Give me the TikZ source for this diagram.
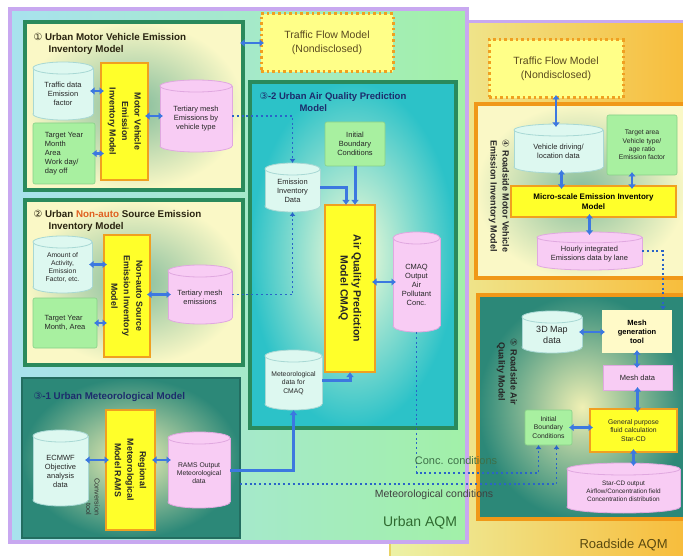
\documentclass[tikz,border=0pt]{standalone}
\usepackage{fontspec}
\setmainfont{Liberation Sans}
\newfontfamily\djv{DejaVu Sans}
\usetikzlibrary{arrows.meta,calc}
\definecolor{purp}{HTML}{C8A8F0}
\definecolor{urbL}{HTML}{A8E2EE}
\definecolor{urbR}{HTML}{A2F0A8}
\definecolor{rsL}{HTML}{ECF2A6}
\definecolor{rsR}{HTML}{F8BA36}
\definecolor{rsB}{HTML}{E8D264}
\definecolor{dgreen}{HTML}{2A8A5C}
\definecolor{boxY}{HTML}{FAF8C6}
\definecolor{boxC}{HTML}{84BC9C}
\definecolor{tealD}{HTML}{2C8878}
\definecolor{tealL}{HTML}{F0F0B4}
\definecolor{cyanE}{HTML}{2CC2C8}
\definecolor{cyanC}{HTML}{FFFFD8}
\definecolor{yelF}{HTML}{FFFF2A}
\definecolor{yelD}{HTML}{F0A020}
\definecolor{orng}{HTML}{F09818}
\definecolor{cyF}{HTML}{DDF8F0}
\definecolor{cyD}{HTML}{A8D8D4}
\definecolor{pkF}{HTML}{F8CCF4}
\definecolor{pkD}{HTML}{E0A8E0}
\definecolor{gnF}{HTML}{A8F0A0}
\definecolor{gnD}{HTML}{88D088}
\definecolor{arrB}{HTML}{3C78E0}
\definecolor{dotB}{HTML}{2A64C8}
\definecolor{navy}{HTML}{1C2C6C}
\definecolor{tfF}{HTML}{FFFF88}
\definecolor{tfD}{HTML}{F0A020}
\definecolor{tfT}{HTML}{5A4A20}
\definecolor{naC}{HTML}{E06020}
\definecolor{ttlC}{HTML}{2A2410}
\definecolor{concG}{HTML}{3E7048}
\definecolor{urbT}{HTML}{2F6A30}
\definecolor{rsT}{HTML}{5A4A10}
\definecolor{mgF}{HTML}{FFFAC8}
\newcommand\mkbox[7]{%
  \pgfmathsetmacro\mbw{#4-#2}%
  \pgfmathsetmacro\mbh{#5-#3}%
  \pgfmathsetmacro\mbx{(#2+#4)/2}%
  \pgfmathsetmacro\mby{(#3+#5)/2}%
  \node[#6, minimum width=\mbw pt, minimum height=\mbh pt, inner sep=0pt, outer sep=0pt] (#1) at (\mbx,\mby) {#7};%
}
\newcommand\mkcyl[8][txt]{%
  \pgfmathsetmacro\mcrx{(#5-#3)/2}%
  \pgfmathsetmacro\mccx{(#3+#5)/2}%
  \pgfmathsetmacro\mccy{(#4+#6)/2}%
  \pgfmathsetmacro\mcw{#5-#3}%
  \pgfmathsetmacro\mch{#6-#4}%
  \pgfmathsetmacro\mcr{min(6,(#6-#4)/7)}%
  \filldraw[#7] (\mccx,#6-\mcr) ellipse[x radius=\mcrx pt, y radius=\mcr pt];%
  \fill[#7,draw=none] (#3,#4+\mcr) rectangle (#5,#6-\mcr);%
  \draw[#7] (#3,#4+\mcr) -- (#3,#6-\mcr) (#5,#4+\mcr) -- (#5,#6-\mcr);%
  \filldraw[#7] (\mccx,#4+\mcr) ellipse[x radius=\mcrx pt, y radius=\mcr pt];%
  \node[minimum width=\mcw pt, minimum height=\mch pt, inner sep=0pt, outer sep=0pt] (#2) at (\mccx,\mccy) {};%
  \node[#1] (#2-t) at (\mccx,\mccy+\mcr/2) {#8};%
}
\begin{document}
\begin{tikzpicture}[x=1pt,y=-1pt,
  txt/.style={font=\fontsize{7.5}{9}\selectfont, align=center, text=black!85},
  stxt/.style={font=\fontsize{6.8}{8.3}\selectfont, align=center, text=black!85},
  ttl/.style={font=\fontsize{9.8}{12}\selectfont\bfseries, align=left, text=ttlC},
  nttl/.style={ttl, text=navy},
  ytxt/.style={font=\fontsize{8.8}{12.5}\selectfont\bfseries, align=center, rotate=-90, text=black!85},
  ybox/.style={fill=yelF, draw=yelD, line width=1.8pt},
  gnote/.style={fill=gnF, draw=gnD, line width=0.6pt, rounded corners=2pt, txt},
  cylc/.style={fill=cyF, draw=cyD, line width=0.8pt},
  cylp/.style={fill=pkF, draw=pkD, line width=0.8pt},
  tfbox/.style={fill=tfF, draw=tfD, line width=3pt, dash pattern=on 2.6pt off 3pt, font=\fontsize{10.5}{14}\selectfont, align=center, text=tfT},
  gbox/.style={draw=dgreen, line width=3.5pt, inner color=boxC, outer color=boxY},
  tbox/.style={draw=tealD!80!black, line width=1.2pt, inner color=tealL, outer color=tealD},
  cbox/.style={draw=dgreen, line width=3.5pt, inner color=cyanC, outer color=cyanE},
  obox/.style={draw=orng, line width=3.5pt, inner color=boxC, outer color=boxY},
  o2box/.style={draw=orng, line width=3.5pt, inner color=tealL, outer color=tealD},
  barr/.style={draw=arrB, line width=2.6pt, {Latex[length=4.5pt,width=8pt]}-{Latex[length=4.5pt,width=8pt]}, shorten <=-3pt, shorten >=-3pt},
  sarr/.style={draw=arrB, line width=3pt, -{Latex[length=5pt,width=8pt]}},
  darr/.style={draw=dotB, line width=1.8pt, dash pattern=on 2pt off 2.8pt, -{Latex[length=4pt,width=6pt]}},
  lbl/.style={font=\fontsize{10.5}{12}\selectfont}
]
\useasboundingbox (0,0) rectangle (683,556);
\fill[white] (0,0) rectangle (683,556);
% ---------- frames ----------
\mkbox{rsf}{390}{22}{700}{575}{left color=rsL, right color=rsR, draw=rsB, line width=2.5pt}{}
\draw[purp, line width=3pt] (466,22) -- (700,22);
\mkbox{urf}{10}{9}{467}{542}{left color=urbL, right color=urbR, draw=purp, line width=4.5pt}{}
% ---------- box 1 ----------
\mkbox{b1}{25}{22}{243}{190}{gbox}{}
\node[ttl, anchor=north west] (t1) at (30,30) {{\djv\mdseries ①} Urban Motor Vehicle Emission\\\hspace*{15pt}Inventory Model};
\mkcyl{td}{33}{62}{93}{120}{cylc}{Traffic data\\Emission\\factor}
\mkbox{tn1}{33}{123}{95}{184}{gnote, align=left}{Target Year\\Month\\Area\\Work day/\\day off}
\mkbox{mv}{101}{63}{148}{180}{ybox}{}
\node[ytxt] (mv-t) at (mv.center) {Motor Vehicle\\Emission\\Inventory Model};
\mkcyl{tm1}{160}{80}{232}{152}{cylp}{Tertiary mesh\\Emissions by\\vehicle type}
% ---------- traffic flow 1 ----------
\mkbox{tf1}{261}{14}{393}{72}{tfbox}{Traffic Flow Model\\(Nondisclosed)}
% ---------- box 2 ----------
\mkbox{b2}{25}{200}{243}{365}{gbox}{}
\node[ttl, anchor=north west] (t2) at (30,207) {{\djv\mdseries ②} Urban \textcolor{naC}{Non-auto} Source Emission\\\hspace*{15pt}Inventory Model};
\mkcyl[stxt]{am}{33}{236}{92}{293}{cylc}{Amount of\\Activity,\\Emission\\Factor, etc.}
\mkbox{tn2}{33}{298}{97}{348}{gnote, align=left}{Target Year\\Month, Area}
\mkbox{na}{104}{235}{150}{357}{ybox}{}
\node[ytxt] (na-t) at (na.center) {Non-auto Source\\Emission Inventory\\Model};
\mkcyl{tm2}{168}{265}{232}{324}{cylp}{Tertiary mesh\\emissions}
% ---------- box 3-1 ----------
\mkbox{b31}{22}{378}{240}{538}{tbox}{}
\node[nttl, anchor=north west] (t31) at (30,389) {{\djv\mdseries ③}-1 Urban Meteorological Model};
\mkcyl{ec}{33}{430}{88}{506}{cylc}{ECMWF\\Objective\\analysis\\data}
\mkbox{rm}{106}{410}{155}{530}{ybox}{}
\node[ytxt] (rm-t) at (rm.center) {Regional\\Meteorological\\Model RAMS};
\mkcyl[stxt]{ro}{168}{432}{230}{508}{cylp}{RAMS Output\\Meteorological\\data}
\node[font=\fontsize{7.2}{8.5}\selectfont, rotate=-90, align=right, text=black!80] (cv) at (93,497) {Conversion\\tool};
% ---------- box 3-2 ----------
\mkbox{b32}{250}{82}{456}{428}{cbox}{}
\node[nttl, anchor=north west, font=\fontsize{9.5}{12}\selectfont\bfseries] (t32) at (256,89) {{\djv\mdseries ③}-2 Urban Air Quality Prediction\\\hspace*{40pt}Model};
\mkbox{ib}{325}{122}{385}{166}{gnote}{Initial\\Boundary\\Conditions}
\mkcyl{ei}{265}{163}{320}{212}{cylc}{Emission\\Inventory\\Data}
\mkbox{cm}{325}{205}{375}{372}{ybox}{}
\node[ytxt, font=\fontsize{10.5}{13}\selectfont\bfseries] (cm-t) at (cm.center) {Air Quality Prediction\\Model CMAQ};
\mkcyl{co}{393}{232}{440}{332}{cylp}{CMAQ\\Output\\Air\\Pollutant\\Conc.}
\mkcyl[stxt]{md}{265}{350}{322}{410}{cylc}{Meteorological\\data for\\CMAQ}
% ---------- box 4 ----------
\mkbox{tf2}{489}{40}{623}{98}{tfbox}{Traffic Flow Model\\(Nondisclosed)}
\mkbox{b4}{476}{104}{686}{278}{obox}{}
\node[ytxt, font=\fontsize{9}{12}\selectfont\bfseries] (t4) at (499,196) {{\djv\mdseries ④} Roadside Motor Vehicle\\Emission Inventory Model};
\mkcyl{vd}{514}{124}{603}{173}{cylc}{Vehicle driving/\\location data}
\mkbox{tn4}{607}{115}{677}{175}{gnote, stxt}{Target area\\Vehicle type/\\age ratio\\Emission factor}
\mkbox{ms}{511}{186}{676}{217}{ybox, font=\fontsize{8}{10}\selectfont\bfseries, align=center}{Micro-scale Emission Inventory\\Model}
\mkcyl{hi}{537}{232}{642}{270}{cylp}{Hourly integrated\\Emissions data by lane}
% ---------- box 5 ----------
\mkbox{b5}{478}{295}{686}{519}{o2box}{}
\node[ytxt, font=\fontsize{9}{12}\selectfont\bfseries] (t5) at (507,372) {{\djv\mdseries ⑤} Roadside Air\\Quality Model};
\mkcyl[font=\fontsize{9}{11}\selectfont, align=center, text=black!85]{mp}{522}{311}{582}{353}{cylc}{3D Map\\data}
\mkbox{mg}{602}{310}{672}{353}{fill=mgF, font=\fontsize{7.5}{9}\selectfont\bfseries, align=center}{Mesh\\generation\\tool}
\mkbox{mdt}{603}{365}{672}{390}{fill=pkF, draw=pkD, line width=0.6pt, txt}{Mesh data}
\mkbox{ib5}{525}{410}{572}{445}{gnote, stxt}{Initial\\Boundary\\Conditions}
\mkbox{sc}{590}{409}{677}{452}{ybox, stxt}{General purpose\\fluid calculation\\Star-CD}
\mkcyl[font=\fontsize{6.4}{7.8}\selectfont, align=center, text=black!85]{so}{567}{463}{680}{513}{cylp}{Star-CD output\\Airflow/Concentration field\\Concentration distribution}
% ---------- connectors ----------
\draw[barr] (td.east) -- (td.east -| mv.west);
\draw[barr] (tn1.east) -- (tn1.east -| mv.west);
\draw[barr] (mv.east |- tm1.east) -- (tm1.west);
\draw[barr] (b1.east |- tf1.west) -- (tf1.west);
\draw[barr] (am.east) -- (am.east -| na.west);
\draw[barr] (tn2.east) -- (tn2.east -| na.west);
\draw[barr] (na.east |- tm2.east) -- (tm2.west);
\draw[barr] ($(ec.east)+(0,-8)$) -- ($(ec.east -| rm.west)+(0,-8)$);
\draw[barr] ($(rm.east |- ro.east)+(0,-10)$) -- ($(ro.west)+(0,-10)$);
\draw[sarr] (ei.east) -| ([xshift=-4pt]cm.north);
\draw[sarr] ([xshift=5pt]cm.north |- ib.south) -- ([xshift=5pt]cm.north);
\draw[sarr] (md.east) -| (cm.south);
\draw[barr] (cm.east |- co.east) -- (co.west);
\draw[darr] (tm1.east) -| (ei.north);
\draw[darr] (tm2.east) -| (ei.south);
\draw[sarr] (ro.east) -| (md.south);
\draw[barr] (tf2.south) -- (tf2.south |- vd.north);
\draw[barr] ([xshift=3pt]vd.south) -- ([xshift=3pt]vd.south |- ms.north);
\draw[barr] ([xshift=-10pt]tn4.south) -- ([xshift=-10pt]tn4.south |- ms.north);
\draw[barr] (ms.south -| hi.north) -- (hi.north);
\draw[darr] (hi.east) -| ([xshift=26pt]mg.north);
\draw[barr] (mp.east) -- (mp.east -| mg.west);
\draw[barr] (mg.south) -- (mg.south |- mdt.north);
\draw[barr] (mdt.south) -- (mdt.south |- sc.north);
\draw[barr] (ib5.east) -- (ib5.east -| sc.west);
\draw[barr] (sc.south) -- (sc.south |- so.north);
\coordinate (mets) at (240,484);
\draw[darr] (co.south) -- ++(0,141) -| ([xshift=-10pt]ib5.south);
\draw[darr] (mets) -| ([xshift=8pt]ib5.south);
% ---------- labels ----------
\node[lbl, font=\fontsize{11}{13}\selectfont, text=concG] (lc) at (456,461) {Conc. conditions};
\node[lbl, text=black!75] (lm) at (434,495) {Meteorological conditions};
\node[font=\fontsize{14}{16}\selectfont, text=urbT] (lu) at (420,523) {Urban AQM};
\node[font=\fontsize{13}{15}\selectfont, text=rsT, anchor=west] (lr) at (576,545) {Roadside AQM};
\end{tikzpicture}
\end{document}
